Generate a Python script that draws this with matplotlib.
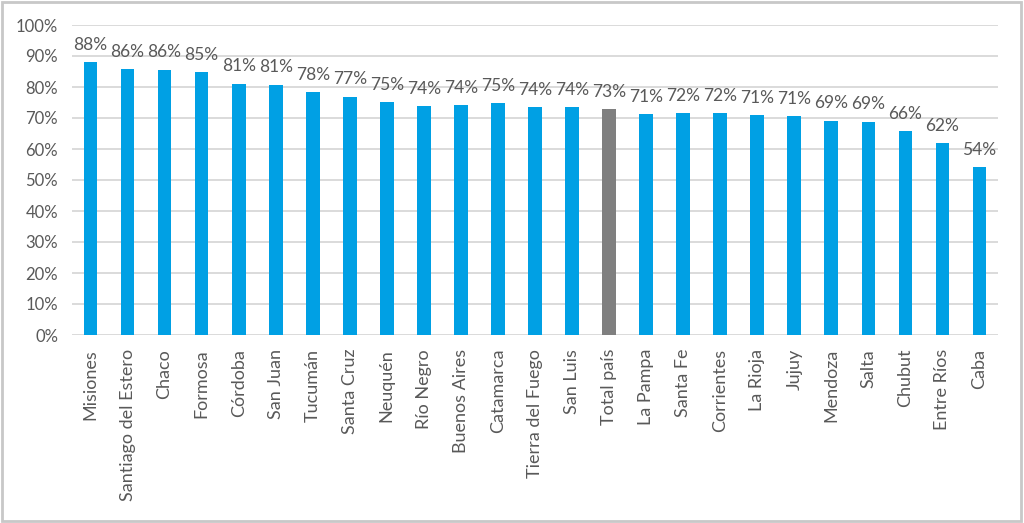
import matplotlib.pyplot as plt
from matplotlib.patches import Rectangle
import matplotlib.ticker as mtick

plt.rcParams['font.family'] = ['Lato', 'DejaVu Sans']

provincias = ["Misiones", "Santiago del Estero", "Chaco", "Formosa", "Córdoba", "San Juan",
              "Tucumán", "Santa Cruz", "Neuquén", "Río Negro", "Buenos Aires", "Catamarca",
              "Tierra del Fuego", "San Luis", "Total país", "La Pampa", "Santa Fe", "Corrientes",
              "La Rioja", "Jujuy", "Mendoza", "Salta", "Chubut", "Entre Ríos", "Caba"]
valores = [88.1, 85.8, 85.6, 84.7, 81.1, 80.8, 78.3, 76.9, 75.2, 73.8, 74.1, 74.7,
           73.6, 73.6, 72.8, 71.3, 71.6, 71.6, 71.0, 70.6, 69.1, 68.8, 65.7, 61.8, 54.1]

azul = '#00a0e4'
gris = '#7f7f7f'
colores = [gris if p == "Total país" else azul for p in provincias]
texto = '#595959'

fig = plt.figure(figsize=(10.24, 5.23), dpi=100)
ax = fig.add_axes([72 / 1024, 1 - 335 / 523, (998 - 72) / 1024, 310 / 523])

x = range(len(provincias))
bars = ax.bar(x, valores, width=0.37, color=colores, zorder=3)

ax.set_ylim(0, 100)
ax.set_xlim(-0.5, len(provincias) - 0.5)
ax.yaxis.set_major_locator(mtick.MultipleLocator(10))
ax.yaxis.set_major_formatter(mtick.FuncFormatter(lambda v, p: f"{int(v)}%"))
ax.grid(axis='y', color='#d4d4d4', linewidth=1.2, zorder=0)
for s in ax.spines.values():
    s.set_visible(False)
ax.tick_params(axis='both', length=0, colors=texto, labelsize=12)
ax.tick_params(axis='y', pad=10)
ax.set_xticks(list(x))
ax.set_xticklabels(provincias, rotation=90, color=texto, fontsize=13)
ax.tick_params(axis='x', pad=10)

# etiquetas de datos
for b, v in zip(bars, valores):
    ax.text(b.get_x() + b.get_width() / 2, v + 3.0, f"{round(v)}%",
            ha='center', va='bottom', fontsize=12.5, color=texto)

# marco de la figura
fig.patches.append(Rectangle((0.002, 0.003), 0.995, 0.994, transform=fig.transFigure,
                             fill=False, edgecolor='#c8c8c8', linewidth=2))

plt.savefig('out.png', dpi=100)
